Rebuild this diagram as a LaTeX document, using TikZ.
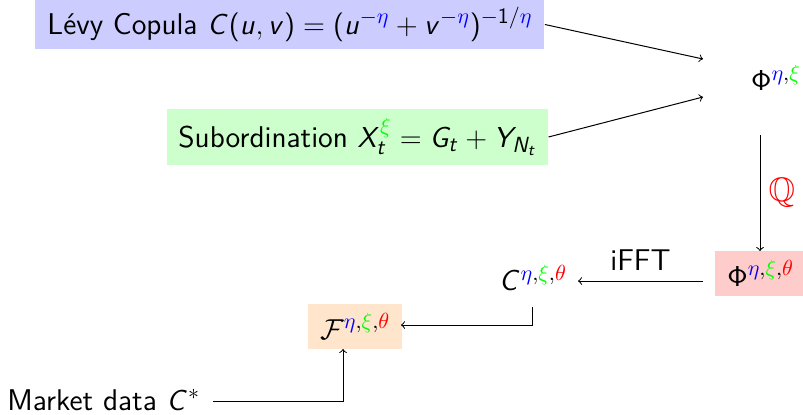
\documentclass[tikz,border=0pt]{standalone}
\usepackage{amssymb}
\DeclareSymbolFont{sfletters}{OT1}{cmss}{m}{sl}
\SetSymbolFont{operators}{normal}{OT1}{cmss}{m}{n}
\DeclareMathSymbol{C}{\mathalpha}{sfletters}{`C}
\DeclareMathSymbol{u}{\mathalpha}{sfletters}{`u}
\DeclareMathSymbol{v}{\mathalpha}{sfletters}{`v}
\DeclareMathSymbol{X}{\mathalpha}{sfletters}{`X}
\DeclareMathSymbol{t}{\mathalpha}{sfletters}{`t}
\DeclareMathSymbol{G}{\mathalpha}{sfletters}{`G}
\DeclareMathSymbol{Y}{\mathalpha}{sfletters}{`Y}
\DeclareMathSymbol{N}{\mathalpha}{sfletters}{`N}
\DeclareMathSizes{15}{15}{11}{8}
\newcommand{\eet}{{\color{blue}\eta}}
\newcommand{\xxi}{{\color{green}\xi}}
\newcommand{\tth}{{\color{red}\theta}}
\tikzset{
  txt/.style={font=\sffamily\fontsize{15}{18}\selectfont, inner sep=0pt},
  arr/.style={draw=black, line width=0.5pt, ->},
}
\begin{document}
\begin{tikzpicture}[x=0.5pt,y=-0.5pt]
\useasboundingbox (0,0) rectangle (803,414);
% nodes
\node[txt, fill=blue!20, anchor=west, inner xsep=6pt, minimum height=24.5pt] (lev) at (35,24.5)
  {L\'evy Copula $C(u,v)=(u^{-\eet}+v^{-\eet})^{-1/\eet}$};
\node[txt, fill=green!20, anchor=west, inner xsep=5.5pt, minimum height=28pt] (sub) at (167,137)
  {Subordination $X^{\xxi}_t=G_t+Y_{N_t}$};
\node[txt] (phi1) at (776,78) {$\Phi^{\eet,\xxi}$};
\node[txt, fill=red!20, anchor=west, inner xsep=6pt, minimum height=22.5pt] (phi2) at (715,273.5) {$\Phi^{\eet,\xxi,\tth}$};
\node[txt] (cc) at (533,278) {$C^{\eet,\xxi,\tth}$};
\node[txt, fill=orange!20, anchor=west, inner xsep=6pt, minimum height=22.5pt] (ff) at (308,326.5) {$\mathcal{F}^{\eet,\xxi,\tth}$};
\node[txt, anchor=base west] (md) at (7,410) {Market data $C^{*}$};
% coordinates
\coordinate (t1) at (703,59);
\coordinate (t2) at (703,97);
\coordinate (q0) at (760,135);
\coordinate (q1) at (760,251);
\coordinate (i0) at (703,281);
\coordinate (i1) at (578,281);
\coordinate (c0) at (532,307);
\coordinate (c1) at (532,325);
\coordinate (f1) at (401,325);
\coordinate (m0) at (213,401);
\coordinate (m1) at (343,401);
\coordinate (m2) at (343,349);
% connectors
\draw[arr] (lev.east) -- (t1);
\draw[arr] (sub.east) -- (t2);
\draw[arr] (q0) -- node[txt, right=4pt, text=red, font=\sffamily\fontsize{17}{20}\selectfont] {$\mathbb{Q}$} (q1);
\draw[arr] (i0) -- node[txt, above=5pt] {iFFT} (i1);
\draw[arr] (c0) -- (c1) -- (f1);
\draw[arr] (m0) -- (m1) -- (m2);
\end{tikzpicture}
\end{document}
